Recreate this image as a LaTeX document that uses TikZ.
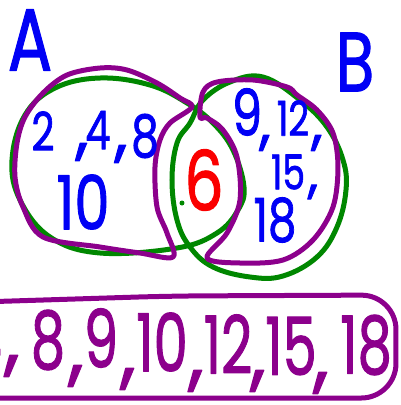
\documentclass[tikz,border=0pt]{standalone}
\usepackage{fontspec}
\usepackage{graphicx}
\newfontfamily\hand[FakeBold=1.5]{Poppins}
\definecolor{vpurple}{RGB}{140,0,140}
\definecolor{vgreen}{RGB}{0,135,0}
\definecolor{vblue}{RGB}{0,0,245}
\definecolor{vred}{RGB}{250,0,0}
\newcommand{\fs}[1]{\fontsize{#1}{#1}\selectfont}
\newcommand{\nw}[2]{\scalebox{0.75}[1]{\fs{#1}#2}}
\newcommand{\nn}[2]{\scalebox{0.68}[1]{\fs{#1}#2}}
\begin{document}
\begin{tikzpicture}[x=0.75pt,y=-0.75pt,line cap=round,line join=round,
  pen/.style={line width=3.75pt},
  lbl/.style={inner sep=0pt,font=\hand}]
\useasboundingbox (0,0) rectangle (401,405);
% green circles
\draw[pen,vgreen] plot[smooth cycle,tension=0.65] coordinates {
 (100,78) (150,85) (187,103) (213,123) (233,150) (244,187) (238,210) (217,233)
 (177,248) (100,253) (50,237) (20,200) (12,160) (25,115) (55,88)};
\draw[pen,vgreen] plot[smooth cycle,tension=0.65] coordinates {
 (263,77) (300,100) (327,127) (343,160) (346,190) (337,227) (317,257) (283,276)
 (250,277) (213,267) (190,247) (177,220) (172,180) (177,143) (190,123) (203,100) (230,82)};
\fill[vgreen] (182,203) circle (2.5);
% purple regions
\draw[pen,vpurple] plot[smooth cycle,tension=0.55] coordinates {
 (192,107) (180,98) (157,83) (127,70) (100,68) (67,75) (43,93) (25,117) (17,143)
 (15,177) (23,207) (43,237) (100,247) (140,253) (173,257) (167,233) (157,207)
 (155,167) (160,140) (170,123)};
\draw[pen,vpurple] plot[smooth cycle,tension=0.55] coordinates {
 (200,117) (203,92) (217,82) (253,80) (287,87) (297,95) (317,110) (333,133)
 (338,167) (333,207) (313,240) (283,260) (240,263) (207,258) (227,233) (240,200)
 (237,157) (223,130) (207,118)};
% bottom box
\draw[pen,vpurple,rounded corners=26pt] (-20,302) -- (170,296) -- (396,295) -- (396,398) -- (-20,398);
% labels
\node[lbl,vblue] (lA) at (30,40) {\nw{66}{A}};
\node[lbl,vblue] (lB) at (355,62) {\nw{63}{B}};
\node[lbl,vblue] (a2) at (43,131) {\nw{40}{2}};
\node[lbl,vblue] (c1) at (82,152) {\fs{50},};
\node[lbl,vblue] (a4) at (98,130) {\nw{40}{4}};
\node[lbl,vblue] (c2) at (121,154) {\fs{50},};
\node[lbl,vblue] (a8) at (145,136) {\nw{44}{8}};
\node[lbl,vblue] (a10) at (83,202) {\nw{56}{10}};
\node[lbl,vred] (six) at (204,180) {\nw{62}{6}};
\node[lbl,vblue] (b9) at (247,112) {\nw{48}{9}};
\node[lbl,vblue] (c3) at (265,143) {\fs{44},};
\node[lbl,vblue] (b12) at (293,118) {\nw{36}{12}};
\node[lbl,vblue] (c4) at (317,143) {\fs{44},};
\node[lbl,vblue] (b15) at (288,172) {\nw{36}{15}};
\node[lbl,vblue] (c5) at (313,192) {\fs{40},};
\node[lbl,vblue] (b18) at (275,220) {\nw{45}{18}};
% bottom list
\node[lbl,vpurple] (d4) at (-15,340) {\nn{58}{4}};
\node[lbl,vpurple] (k1) at (12,366) {\fs{60},};
\node[lbl,vpurple] (d8) at (48,340) {\nn{60}{8}};
\node[lbl,vpurple] (k2) at (76,376) {\fs{60},};
\node[lbl,vpurple] (d9) at (101,338) {\nn{60}{9}};
\node[lbl,vpurple] (k3) at (128,379) {\fs{60},};
\node[lbl,vpurple] (d10) at (162,342) {\nn{60}{10}};
\node[lbl,vpurple] (k4) at (196,381) {\fs{60},};
\node[lbl,vpurple] (d12) at (228,344) {\nn{60}{12}};
\node[lbl,vpurple] (k5) at (258,381) {\fs{60},};
\node[lbl,vpurple] (d15) at (291,346) {\nn{60}{15}};
\node[lbl,vpurple] (k6) at (321,383) {\fs{60},};
\node[lbl,vpurple] (d18) at (366,345) {\nn{60}{18}};
\end{tikzpicture}
\end{document}
